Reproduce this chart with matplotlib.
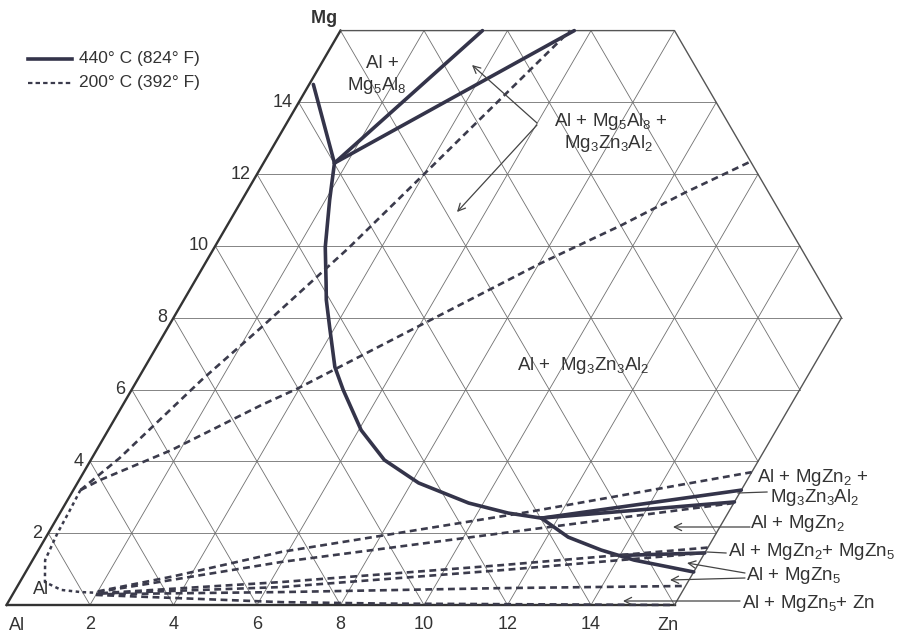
import numpy as np
import matplotlib.pyplot as plt

plt.rcParams['font.family'] = ['Liberation Sans', 'DejaVu Sans']
plt.rcParams['mathtext.default'] = 'regular'

# canvas size and placement of the Al corner (pixels), scale per wt.%
W, H = 913, 640
X0, Y0 = 6.5, 605
SX, SY = 41.75, 35.9

grid_steps = [2, 4, 6, 8, 10, 12, 14]
zn_ticks = ['2', '4', '6', '8', '10', '12', '14']
mg_ticks = ['2', '4', '6', '8', '10', '12', '14']

# 440 C boundaries, wt.% (Zn, Mg)
sol440_top_zn = [0.1, 1.7]
sol440_top_mg = [14.5, 12.31]
sol440_zn = [1.70, 2.10, 2.65, 3.17, 3.41, 3.87, 4.55, 5.07, 6.06, 7.03, 8.17,
             9.65, 10.74, 11.6, 12.51, 13.48, 14.41, 15.33, 16.0]
sol440_mg = [12.31, 11.28, 9.97, 8.97, 8.5, 7.74, 6.63, 5.99, 4.87, 4.04, 3.40,
             2.84, 2.56, 2.42, 1.89, 1.53, 1.25, 1.06, 0.92]
tie440 = [
    ([1.7, 3.4], [12.31, 16.0]),
    ([1.7, 5.6], [12.31, 16.0]),
    ([11.6, 16.0], [2.42, 3.2]),
    ([11.6, 16.0], [2.42, 2.87]),
    ([14.0, 16.0], [1.38, 1.45]),
]

# 200 C boundaries, wt.% (Zn, Mg)
sol200_zn = [0.17, 0.2, 0.22, 0.3, 0.6, 1.1, 1.6, 2.0]
sol200_mg = [3.2, 2.6, 2.0, 1.25, 0.64, 0.42, 0.36, 0.34]
tie200 = [
    ([0.17, 0.66, 1.54, 2.24, 3.22, 4.0, 5.5], [3.2, 4.09, 6.27, 7.74, 9.94, 12.0, 16.0]),
    ([0.17, 0.5, 1.8, 3.32, 3.97, 6.12, 8.05, 9.44, 10.5, 11.63],
     [3.2, 3.48, 4.32, 5.57, 6.04, 7.88, 9.53, 10.58, 11.48, 12.34]),
    ([2.0, 3.6, 5.85, 11.2, 16.0], [0.38, 0.8, 1.48, 2.59, 3.7]),
    ([2.0, 5.99, 10.86, 16.0], [0.36, 1.2, 2.0, 2.84]),
    ([2.1, 6.27, 11.3, 16.0], [0.33, 0.64, 1.11, 1.6]),
    ([2.1, 6.34, 11.37, 16.0], [0.32, 0.5, 0.97, 1.45]),
    ([2.0, 6.41, 11.6, 16.0], [0.30, 0.36, 0.47, 0.53]),
    ([2.0, 6.55, 9.0, 16.0], [0.28, 0.08, 0.04, 0.0]),
]

SOLID = dict(color='#34344a', lw=2.6, solid_capstyle='round')
DASH = dict(color='#3b3b4c', lw=1.9, dashes=(2.6, 1.7))
GRID = dict(color='#707070', lw=0.6)


def tern(zn, mg):
    zn = np.asarray(zn, float)
    mg = np.asarray(mg, float)
    return zn + mg / 2, mg


def pix(x, y):
    return x / W, 1 - y / H


fig = plt.figure(figsize=(W / 100, H / 100), dpi=100)
ax = fig.add_axes([0, 0, 1, 1])
ax.set_xlim(-X0 / SX, (W - X0) / SX)
ax.set_ylim(-(H - Y0) / SY, Y0 / SY)
ax.axis('off')

# triangular grid every 2 %
for c in grid_steps:
    top = min(16, 24 - c)
    ax.plot(*tern([0, top], [c, c]), **GRID)
    ax.plot(*tern([c, c], [0, top]), **GRID)
for s in range(2, 24, 2):
    z = np.array([max(0, s - 16), min(s, 16)])
    ax.plot(*tern(z, s - z), **GRID)

# outline
ax.plot(*tern([0, 0], [0, 16]), color='#333333', lw=1.7)
ax.plot(*tern([0, 16], [0, 0]), color='#333333', lw=1.7)
ax.plot(*tern([0, 8, 16, 16], [16, 16, 8, 0]), color='#555555', lw=1.0)

# phase boundaries
ax.plot(*tern(sol440_top_zn, sol440_top_mg), **SOLID)
ax.plot(*tern(sol440_zn, sol440_mg), **SOLID)
for z, m in tie440:
    ax.plot(*tern(z, m), **SOLID)
ax.plot(*tern(sol200_zn, sol200_mg), color='#3b3b4c', lw=1.8, dashes=(1.4, 1.4))
for z, m in tie200:
    ax.plot(*tern(z, m), **DASH)

# axis labels
tfs = 13
for c, lab in zip(grid_steps, zn_ticks):
    x, y = tern(c, 0)
    ax.text(x, y - 0.55, lab, ha='center', va='center', fontsize=tfs, color='#333')
for c, lab in zip(grid_steps, mg_ticks):
    x, y = tern(0, c)
    ax.text(x - 0.15, y, lab, ha='right', va='center', fontsize=tfs, color='#333')
ax.text(*tern(0, 16.1), 'Mg ', ha='right', va='bottom', fontsize=tfs, color='#333',
        fontweight='bold')
ax.text(*pix(668, 625), 'Zn', transform=ax.transAxes, ha='center', va='center',
        fontsize=tfs, color='#333')
ax.text(*pix(17, 625), 'Al', transform=ax.transAxes, ha='center', va='center',
        fontsize=tfs, color='#333')
ax.text(*pix(41, 590), 'Al', transform=ax.transAxes, ha='center', va='center',
        fontsize=tfs, color='#333')

# legend
ax.plot(*zip(pix(28, 59), pix(72, 59)), transform=ax.transAxes, color='#34344a', lw=2.6)
ax.plot(*zip(pix(28, 83), pix(72, 83)), transform=ax.transAxes, color='#3b3b4c',
        lw=1.6, dashes=(2, 1.4))
ax.text(*pix(79, 59), '440° C (824° F)', transform=ax.transAxes, va='center',
        fontsize=12.5, color='#333')
ax.text(*pix(79, 83), '200° C (392° F)', transform=ax.transAxes, va='center',
        fontsize=12.5, color='#333')

# region labels
fs = 13.5
labels = [
    (382, 63, 'Al +', 'center'),
    (377, 86, 'Mg$_5$Al$_8$', 'center'),
    (611, 121, 'Al + Mg$_5$Al$_8$ +', 'center'),
    (609, 143, 'Mg$_3$Zn$_3$Al$_2$', 'center'),
    (583, 366, 'Al +  Mg$_3$Zn$_3$Al$_2$', 'center'),
    (757, 477, 'Al + MgZn$_2$ +', 'left'),
    (770, 497, 'Mg$_3$Zn$_3$Al$_2$', 'left'),
    (750, 524, 'Al + MgZn$_2$', 'left'),
    (728, 551, 'Al + MgZn$_2$+ MgZn$_5$', 'left'),
    (746, 576, 'Al + MgZn$_5$', 'left'),
    (742, 603, 'Al + MgZn$_5$+ Zn', 'left'),
]
for x, y, s, ha in labels:
    ax.text(*pix(x, y), s, transform=ax.transAxes, ha=ha, va='center',
            fontsize=fs, color='#333')

# pointers
ARROW = dict(arrowstyle='->', color='#444444', lw=0.9, shrinkA=0, shrinkB=0,
             mutation_scale=13)
arrows = [
    ((537, 123), (472, 65)),
    ((537, 125), (457, 212)),
    ((750, 527), (673, 527)),
    ((745, 573), (687, 563)),
    ((745, 578), (670, 580)),
    ((740, 601), (623, 601)),
]
for start, end in arrows:
    ax.annotate('', xy=pix(*end), xytext=pix(*start), xycoords='axes fraction',
                textcoords='axes fraction', arrowprops=ARROW)
leaders = [((738, 493), (767, 492)), ((707, 552), (726, 553))]
for a, b in leaders:
    ax.plot(*zip(pix(*a), pix(*b)), transform=ax.transAxes, color='#444444', lw=0.9)

fig.savefig('out.png', dpi=100)
